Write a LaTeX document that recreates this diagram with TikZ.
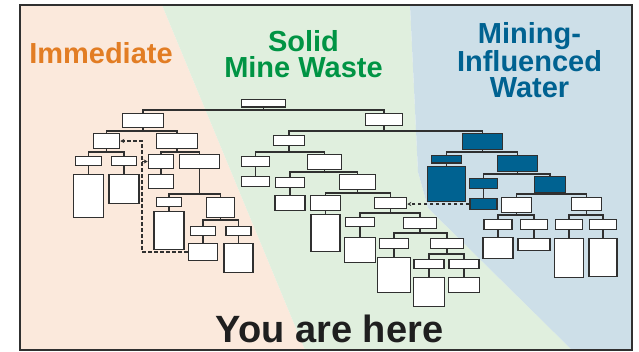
\documentclass[tikz,border=0pt]{standalone}
\usepackage{fontspec}
\setmainfont{Liberation Sans}
\usetikzlibrary{arrows.meta}

\definecolor{peach}{RGB}{251,233,220}
\definecolor{mint}{RGB}{224,239,222}
\definecolor{sky}{RGB}{205,223,232}
\definecolor{immorange}{RGB}{226,125,36}
\definecolor{wastegreen}{RGB}{0,148,68}
\definecolor{waterblue}{RGB}{0,98,145}
\definecolor{ink}{RGB}{48,48,48}

% parent -> child through a horizontal bar at height #3
\newcommand{\treefork}[3]{\draw[wire] (#1.south) -- (#1.south |- 0,#3) -| (#2.north);}

\begin{document}
\begin{tikzpicture}[
  x=1pt, y=-1pt,
  box/.style 2 args={draw=ink, fill=white, line width=1.5pt, inner sep=0pt,
    minimum width=#1, minimum height=#2},
  dbox/.style 2 args={box={#1}{#2}, fill=waterblue},
  wire/.style={draw=ink, line width=1.3pt},
  dashline/.style={draw=ink, line width=1.2pt, dash pattern=on 3.5pt off 2.5pt,
    -{Stealth[length=4pt, width=4pt]}},
  title/.style={font=\fontsize{29}{26.5}\selectfont\bfseries, align=center, inner sep=0pt}
]
\useasboundingbox (0,0) rectangle (639,351);

% backgrounds
\fill[peach] (20,5) -- (162,5) -- (305,350) -- (20,350) -- cycle;
\fill[mint] (162,5) -- (410,5) -- (418,172) -- (428,208) -- (572,350) -- (305,350) -- cycle;
\fill[sky] (410,5) -- (632,5) -- (632,350) -- (572,350) -- (428,208) -- (418,172) -- cycle;
\draw[ink, line width=2.4pt] (20,5) rectangle (632,350);

% titles
\node[title, text=immorange, anchor=base] (timm) at (101,63) {Immediate};
\node[title, text=wastegreen, anchor=north] (twaste) at (303.5,30) {Solid\\Mine Waste};
\node[title, text=waterblue, anchor=north] (twater) at (529.5,22) {Mining-\\Influenced\\Water};
\node[font=\fontsize{38}{38}\selectfont\bfseries, text=black!88, anchor=base, inner sep=0pt] (here) at (329.5,342) {You are here};

% top
\node[box={44}{7.5}] (root) at (263.5,103) {};

% immediate branch
\node[box={41}{14}] (i) at (143,120.5) {};
\node[box={26}{15}] (i2a) at (106.5,141) {};
\node[box={41}{15}] (i2b) at (177,141) {};
\node[box={26}{9}] (i3a) at (88.5,161) {};
\node[box={25}{9}] (i3b) at (124,161) {};
\node[box={25}{14}] (i3c) at (161,161.5) {};
\node[box={40}{14}] (i3d) at (199.5,161.5) {};
\node[box={30}{43}] (i4a) at (88.5,196) {};
\node[box={30}{29}] (i4b) at (124,189) {};
\node[box={25}{14}] (i4c) at (161,181.5) {};
\node[box={25}{9}] (i4d) at (169,202) {};
\node[box={28}{20}] (i4e) at (220.5,207.5) {};
\node[box={30}{38}] (i5a) at (169,230.5) {};
\node[box={25}{9}] (i5b) at (203,231) {};
\node[box={25}{9}] (i5c) at (238.5,231) {};
\node[box={29}{17}] (i6a) at (203,252) {};
\node[box={29}{29}] (i6b) at (238.5,258) {};

% solid mine waste branch
\node[box={37}{12}] (s) at (384,119.5) {};
\node[box={31}{10}] (s2a) at (289,140.5) {};
\node[box={28}{10}] (s3a) at (255.5,161.5) {};
\node[box={34}{15}] (s3b) at (324.5,162) {};
\node[box={28}{10}] (s4a) at (255.5,181.5) {};
\node[box={29}{10}] (s4b) at (290,182.5) {};
\node[box={36}{15}] (s4c) at (357.5,182) {};
\node[box={30}{15}] (s5a) at (290,203) {};
\node[box={30}{15}] (s5b) at (325.5,203) {};
\node[box={32}{11}] (s5c) at (390.5,203) {};
\node[box={29}{37}] (s6a) at (325.5,233) {};
\node[box={29}{9}] (s6b) at (360,222) {};
\node[box={33}{11}] (s6c) at (420,223) {};
\node[box={31}{25}] (s7a) at (360,250) {};
\node[box={29}{10}] (s7b) at (394,243.5) {};
\node[box={33}{10}] (s7c) at (447,243.5) {};
\node[box={33}{35}] (s8a) at (394,275) {};
\node[box={30}{9}] (s8b) at (429,264) {};
\node[box={30}{9}] (s8c) at (464,264) {};
\node[box={31}{29}] (s9a) at (429,292) {};
\node[box={31}{15}] (s9b) at (464,285) {};

% mining-influenced water branch
\node[dbox={40}{16}] (w) at (482.5,141.5) {};
\node[dbox={30}{7.5}] (w2a) at (446.5,159) {};
\node[dbox={40}{16}] (w2b) at (517.5,163.5) {};
\node[dbox={38}{35}] (w3a) at (446.5,184) {};
\node[dbox={28}{10}] (w3b) at (483.5,183.5) {};
\node[dbox={31}{16}] (w3c) at (550,184.5) {};
\node[dbox={27}{11}] (w4a) at (483.5,204) {};
\node[box={30}{15}] (w4b) at (516.5,205) {};
\node[box={30}{13}] (w4c) at (586.5,204) {};
\node[box={28}{10}] (w5a) at (498,224.5) {};
\node[box={27}{10}] (w5b) at (534,224.5) {};
\node[box={27}{10}] (w5c) at (569,224.5) {};
\node[box={27}{10}] (w5d) at (603,224.5) {};
\node[box={30}{21}] (w6a) at (498,248) {};
\node[box={32}{12}] (w6b) at (534,244.5) {};
\node[box={29}{39}] (w6c) at (569,258) {};
\node[box={28}{38}] (w6d) at (603,257.5) {};

% tree lines
\treefork{root}{i}{110}
\treefork{root}{s}{110}
\treefork{i}{i2a}{131}
\treefork{i}{i2b}{131}
\treefork{i2a}{i3a}{152}
\treefork{i2a}{i3b}{152}
\treefork{i2b}{i3c}{152}
\treefork{i2b}{i3d}{152}
\draw[wire] (i3a) -- (i4a);
\draw[wire] (i3b) -- (i4b);
\draw[wire] (i3c) -- (i4c);
\treefork{i3d}{i4d}{194}
\treefork{i3d}{i4e}{194}
\draw[wire] (i4d) -- (i5a);
\treefork{i4e}{i5b}{220}
\treefork{i4e}{i5c}{220}
\draw[wire] (i5b) -- (i6a);
\draw[wire] (i5c) -- (i6b);

\treefork{s}{s2a}{131}
\treefork{s}{w}{131}
\treefork{s2a}{s3a}{152}
\treefork{s2a}{s3b}{152}
\draw[wire] (s3a) -- (s4a);
\treefork{s3b}{s4b}{172}
\treefork{s3b}{s4c}{172}
\draw[wire] (s4b) -- (s5a);
\treefork{s4c}{s5b}{193}
\treefork{s4c}{s5c}{193}
\draw[wire] (s5b) -- (s6a);
\treefork{s5c}{s6b}{213}
\treefork{s5c}{s6c}{213}
\draw[wire] (s6b) -- (s7a);
\treefork{s6c}{s7b}{233}
\treefork{s6c}{s7c}{233}
\draw[wire] (s7b) -- (s8a);
\treefork{s7c}{s8b}{254}
\treefork{s7c}{s8c}{254}
\draw[wire] (s8b) -- (s9a);
\draw[wire] (s8c) -- (s9b);

\treefork{w}{w2a}{152}
\treefork{w}{w2b}{152}
\draw[wire] (w2a) -- (w3a);
\treefork{w2b}{w3b}{174}
\treefork{w2b}{w3c}{174}
\draw[wire] (w3b) -- (w4a);
\treefork{w3c}{w4b}{194}
\treefork{w3c}{w4c}{194}
\treefork{w4b}{w5a}{215}
\treefork{w4b}{w5b}{215}
\treefork{w4c}{w5c}{215}
\treefork{w4c}{w5d}{215}
\draw[wire] (w5a) -- (w6a);
\draw[wire] (w5b) -- (w6b);
\draw[wire] (w5c) -- (w6c);
\draw[wire] (w5d) -- (w6d);

% dashed links
\coordinate (jog) at (142,0);
\draw[dashline] (i6a.west) -| (jog |- i2a.east) -- (i2a.east);
\draw[dashline] (jog |- i3c.west) -- (i3c.west);
\draw[dashline] (w4a.west) -- (w4a.west -| s5c.east);

\end{tikzpicture}
\end{document}
